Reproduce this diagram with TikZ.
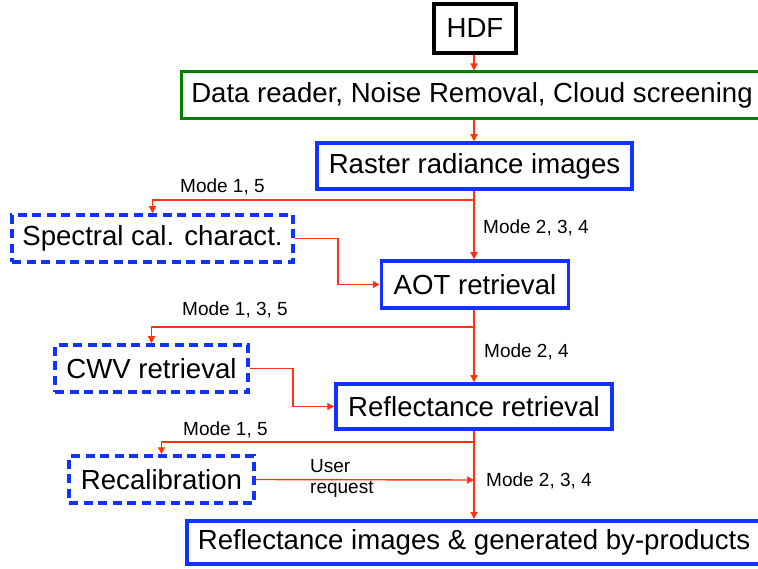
\documentclass[tikz,border=0pt]{standalone}
\usepackage{fontspec}
\setmainfont{Liberation Sans}
\usetikzlibrary{arrows.meta}
\definecolor{flowred}{RGB}{255,51,17}
\definecolor{boxblue}{RGB}{17,51,255}
\definecolor{boxgreen}{RGB}{0,128,0}
\tikzset{
  box/.style={draw, inner sep=0pt, font=\fontsize{27.6}{31}\selectfont, fill=white},
  solidbox/.style={box, draw=boxblue, line width=3.5pt},
  dashbox/.style={box, draw=boxblue, line width=3.5pt, dash pattern=on 9pt off 5.5pt},
  flow/.style={draw=flowred, line width=1.4pt, -{Triangle[length=7pt,width=7pt]}},
  lbl/.style={inner sep=0pt, font=\fontsize{19}{22}\selectfont, anchor=base west},
}
\begin{document}
\begin{tikzpicture}[x=1pt,y=-1pt]
\useasboundingbox (0,0) rectangle (758,569);
\clip (0,0) rectangle (758,569);

% boxes
\node[box, draw=black, line width=4pt, minimum width=82pt, minimum height=49pt] (hdf) at (475,28.5) {HDF};
\node[box, draw=boxgreen, line width=3pt, minimum width=582pt, minimum height=47pt] (reader) at (472,95.5) {Data reader, Noise Removal, Cloud screening};
\node[solidbox, minimum width=315pt, minimum height=46pt] (raster) at (474.5,166) {Raster radiance images};
\node[dashbox, minimum width=281pt, minimum height=47pt] (spec) at (152.5,238.5) {Spectral cal. charact.};
\node[solidbox, minimum width=187pt, minimum height=47pt] (aot) at (475,284.5) {AOT retrieval};
\node[dashbox, minimum width=193pt, minimum height=47pt] (cwv) at (151.5,368.5) {CWV retrieval};
\node[solidbox, minimum width=276pt, minimum height=45pt] (refl) at (474,406.5) {Reflectance retrieval};
\node[dashbox, minimum width=185pt, minimum height=47pt] (recal) at (161.5,479.5) {Recalibration};
\node[box, draw=boxblue, line width=4pt, minimum width=574pt, minimum height=43pt] (out) at (474,542.5) {Reflectance images \& generated by-products};

% branch points on the main flow
\coordinate (b1) at (474,200);
\coordinate (b2) at (474,327);
\coordinate (b3) at (474,442);
\coordinate (join) at (474,480);

% main flow
\draw[flow] (hdf.south -| 474,0) -- (reader.north -| 474,0);
\draw[flow] (reader.south -| 474,0) -- (raster.north -| 474,0);
\draw[flow] (raster.south -| b1) -- (aot.north -| b1);
\draw[flow] (aot.south -| b2) -- (refl.north -| b2);
\draw[flow] (refl.south -| b3) -- (out.north -| b3);

% side branches
\draw[flow] (b1) -| (spec.north);
\draw[flow] (b2) -| (cwv.north);
\draw[flow] (b3) -| (recal.north);

% side results back into the flow
\draw[flow] (spec.east) -- (338,238.5) |- (aot.west);
\draw[flow] (cwv.east) -- (293,368.5) |- (refl.west);
\draw[flow] (recal.east) -- (join);

% labels
\node[lbl] (m1) at (180,193) {Mode 1, 5};
\node[lbl] (m2) at (483,234) {Mode 2, 3, 4};
\node[lbl] (m3) at (182,315.5) {Mode 1, 3, 5};
\node[lbl] (m4) at (484,357.5) {Mode 2, 4};
\node[lbl] (m5) at (183,435) {Mode 1, 5};
\node[lbl] (m6) at (486,486.5) {Mode 2, 3, 4};
\node[lbl] (u1) at (310,472.5) {User};
\node[lbl] (u2) at (310,493.5) {request};
\end{tikzpicture}
\end{document}
